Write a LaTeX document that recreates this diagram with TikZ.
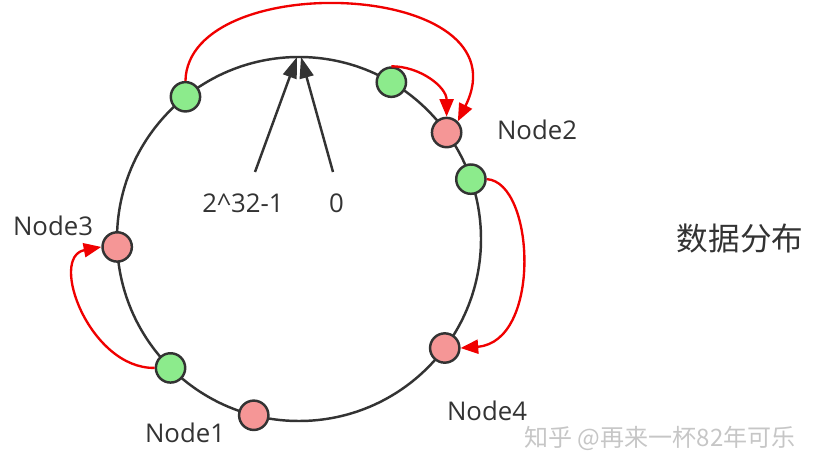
\documentclass[tikz,border=0pt]{standalone}
\usepackage{fontspec}
\setmainfont{Open Sans}
\newfontfamily\cjkfont{Noto Sans CJK SC}
\usetikzlibrary{arrows.meta, calc}
\definecolor{ringgray}{RGB}{51, 51, 51}
\definecolor{keygreen}{RGB}{140, 235, 140}
\definecolor{nodepink}{RGB}{245, 150, 150}
\definecolor{moved}{RGB}{240, 0, 0}
\definecolor{textgray}{RGB}{51, 51, 51}

\begin{document}
\begin{tikzpicture}[
  x=0.03cm, y=0.03cm,
  every node/.style={font=\fontsize{22}{26}\selectfont, text=textgray},
  ring/.style={draw=ringgray, line width=2.1pt},
  slot/.style={circle, draw=ringgray, line width=2.1pt, minimum size=0.88cm, inner sep=0pt},
  datakey/.style={slot, fill=keygreen},
  server/.style={slot, fill=nodepink},
  move/.style={-{Triangle[length=15pt, width=12pt]}, draw=moved, line width=2pt},
  hashptr/.style={-{Triangle[length=18pt, width=12pt]}, draw=ringgray, line width=2.1pt}
]
\useasboundingbox (0,0) rectangle (818,472);

% hash ring
\coordinate (o) at (299,233);
\draw[ring] (o) circle[radius=182];

% start of the ring
\coordinate (top) at ($(o)+(90:182)$);
\coordinate (tipL) at ($(top)+(-2,0)$);
\coordinate (tipR) at ($(top)+(2,0)$);
\coordinate (fromL) at (255,300);
\coordinate (fromR) at (333,300);
\draw[hashptr] (fromL) -- (tipL);
\draw[hashptr] (fromR) -- (tipR);
\node (hmax)  at (243,269) {2\textasciicircum 32-1};
\node (hzero) at (336.5,269) {0};

% keys and nodes on the ring
\node[datakey] (key1)  at ($(o)+(128.6:182)$) {};
\node[datakey] (key2)  at ($(o)+(59.5:182)$) {};
\node[server]  (node2) at ($(o)+(35.8:182)$) {};
\node[datakey] (key3)  at ($(o)+(19.2:182)$) {};
\node[server]  (node4) at ($(o)+(-36.8:182)$) {};
\node[server]  (node1) at ($(o)+(255.6:182)$) {};
\node[datakey] (key4)  at ($(o)+(225.1:182)$) {};
\node[server]  (node3) at ($(o)+(182.5:182)$) {};

\node (lbl1) at (185,39)  {Node1};
\node (lbl2) at (537,342) {Node2};
\node (lbl3) at (53,246)  {Node3};
\node (lbl4) at (487,61)  {Node4};

% keys go clockwise to the next node
\draw[move] (key1.north) .. controls (188,505) and (528,492) .. (node2.north east);
\draw[move] (key2.north) to[out=0, in=90] (node2.north);
\draw[move] (key3.east) .. controls (535,290) and (542,130) .. (node4.east);
\draw[move] (key4.west) .. controls (90,103) and (48,215) .. (node3.west);

\node[font=\cjkfont\fontsize{27}{31}\selectfont] (title) at (740,233) {数据分布};
\node[font=\cjkfont\fontsize{20.5}{24}\selectfont, text=gray!45] (mark) at (660,34) {知乎 @再来一杯82年可乐};
\end{tikzpicture}
\end{document}
